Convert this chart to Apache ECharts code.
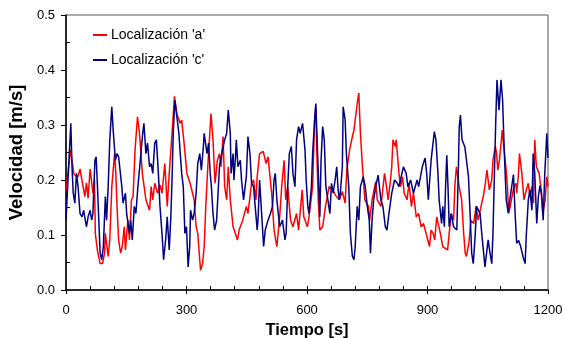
<!DOCTYPE html>
<html>
<head>
<meta charset="utf-8">
<script src="https://cdn.jsdelivr.net/npm/echarts@6/dist/echarts.min.js"></script>
<style>
  html, body { margin: 0; padding: 0; background: #fff; }
  #chart { width: 564px; height: 338px; }
</style>
</head>
<body>
<div id="chart"></div>
<script>
  // time [s], velocity [m/s]
  const locA = [[0,0.18],[11,0.255],[20,0.21],[29,0.205],[35,0.22],[42,0.19],[47,0.17],[51,0.195],[55,0.167],[60,0.22],[67,0.176],[71,0.2],[73,0.103],[78,0.073],[85,0.048],[91,0.048],[96,0.067],[98,0.103],[105,0.061],[109,0.091],[114,0.188],[121,0.248],[124,0.212],[127,0.152],[131,0.091],[136,0.067],[140,0.079],[145,0.115],[148,0.073],[154,0.127],[158,0.091],[163,0.164],[167,0.17],[172,0.255],[178,0.315],[183,0.285],[190,0.212],[199,0.164],[208,0.145],[212,0.188],[216,0.164],[221,0.194],[228,0.176],[234,0.191],[239,0.176],[246,0.23],[252,0.152],[257,0.212],[264,0.285],[270,0.352],[276,0.321],[284,0.303],[288,0.309],[294,0.267],[301,0.212],[309,0.194],[315,0.176],[319,0.164],[324,0.115],[328,0.103],[333,0.055],[335,0.036],[340,0.048],[344,0.079],[348,0.152],[353,0.224],[358,0.285],[361,0.321],[366,0.273],[371,0.194],[377,0.236],[382,0.248],[386,0.224],[391,0.279],[395,0.188],[400,0.164],[404,0.224],[409,0.164],[416,0.115],[427,0.091],[431,0.109],[440,0.127],[449,0.152],[453,0.139],[462,0.194],[467,0.2],[473,0.164],[476,0.206],[482,0.248],[491,0.252],[498,0.23],[503,0.242],[512,0.176],[518,0.109],[525,0.079],[532,0.133],[537,0.188],[543,0.236],[547,0.164],[552,0.188],[559,0.127],[565,0.115],[574,0.139],[579,0.109],[588,0.182],[592,0.133],[601,0.115],[605,0.133],[614,0.188],[619,0.309],[622,0.333],[625,0.236],[628,0.164],[632,0.109],[639,0.115],[646,0.152],[655,0.188],[664,0.182],[673,0.17],[681,0.164],[688,0.179],[695,0.158],[699,0.218],[706,0.255],[713,0.279],[717,0.291],[726,0.345],[729,0.358],[733,0.285],[738,0.224],[744,0.164],[753,0.152],[756,0.127],[762,0.164],[771,0.197],[775,0.164],[784,0.152],[793,0.212],[798,0.188],[802,0.164],[807,0.194],[811,0.224],[814,0.273],[820,0.261],[822,0.273],[829,0.212],[833,0.188],[838,0.206],[842,0.176],[849,0.164],[854,0.194],[860,0.152],[865,0.176],[872,0.133],[878,0.139],[884,0.115],[890,0.121],[905,0.079],[909,0.109],[914,0.103],[918,0.091],[923,0.133],[932,0.103],[938,0.079],[950,0.073],[954,0.103],[959,0.139],[965,0.127],[968,0.188],[972,0.224],[979,0.188],[985,0.164],[990,0.103],[994,0.067],[997,0.061],[1003,0.085],[1008,0.127],[1015,0.121],[1021,0.152],[1026,0.127],[1035,0.158],[1039,0.17],[1044,0.194],[1048,0.218],[1054,0.182],[1060,0.2],[1063,0.236],[1069,0.261],[1072,0.248],[1075,0.218],[1079,0.236],[1084,0.273],[1086,0.291],[1090,0.261],[1095,0.224],[1099,0.188],[1102,0.139],[1106,0.152],[1115,0.188],[1120,0.194],[1122,0.176],[1126,0.206],[1129,0.248],[1135,0.212],[1140,0.164],[1146,0.182],[1151,0.194],[1155,0.17],[1160,0.188],[1164,0.158],[1167,0.273],[1171,0.224],[1178,0.212],[1182,0.188],[1187,0.139],[1193,0.164],[1197,0.206],[1200,0.188]];

  const locC = [[0,0.127],[12,0.303],[15,0.224],[18,0.176],[22,0.158],[26,0.212],[30,0.188],[35,0.139],[40,0.133],[44,0.145],[48,0.127],[51,0.115],[55,0.133],[60,0.145],[64,0.127],[67,0.139],[72,0.236],[75,0.242],[78,0.194],[81,0.139],[85,0.067],[89,0.055],[93,0.079],[98,0.17],[101,0.127],[105,0.188],[109,0.273],[114,0.333],[118,0.285],[123,0.236],[127,0.248],[131,0.242],[139,0.188],[142,0.158],[148,0.176],[151,0.139],[158,0.103],[161,0.127],[165,0.091],[170,0.152],[174,0.139],[179,0.188],[185,0.236],[191,0.285],[194,0.303],[199,0.248],[203,0.267],[208,0.224],[212,0.23],[216,0.212],[221,0.267],[225,0.273],[230,0.212],[234,0.152],[239,0.103],[243,0.055],[248,0.091],[252,0.133],[257,0.073],[261,0.133],[264,0.2],[267,0.285],[271,0.345],[276,0.315],[281,0.285],[285,0.242],[288,0.212],[292,0.188],[296,0.103],[300,0.115],[304,0.042],[308,0.079],[310,0.145],[315,0.127],[319,0.139],[324,0.176],[328,0.23],[333,0.248],[337,0.218],[342,0.261],[344,0.285],[351,0.248],[355,0.267],[359,0.212],[362,0.188],[366,0.139],[370,0.109],[375,0.127],[382,0.224],[386,0.242],[395,0.273],[400,0.285],[404,0.327],[409,0.285],[411,0.212],[416,0.248],[418,0.2],[422,0.242],[424,0.273],[428,0.224],[434,0.236],[437,0.2],[442,0.164],[444,0.176],[449,0.206],[453,0.279],[458,0.248],[462,0.194],[467,0.188],[471,0.152],[476,0.109],[478,0.127],[482,0.2],[487,0.139],[492,0.079],[496,0.109],[503,0.127],[509,0.139],[514,0.152],[518,0.2],[521,0.212],[525,0.164],[532,0.115],[539,0.127],[545,0.091],[548,0.103],[552,0.188],[556,0.248],[561,0.261],[565,0.212],[570,0.188],[574,0.273],[579,0.297],[583,0.285],[589,0.303],[595,0.255],[598,0.2],[602,0.152],[605,0.139],[611,0.188],[614,0.248],[620,0.321],[622,0.339],[626,0.255],[630,0.176],[632,0.133],[635,0.236],[639,0.297],[643,0.273],[647,0.188],[652,0.164],[657,0.139],[661,0.194],[665,0.176],[670,0.2],[674,0.224],[677,0.188],[680,0.164],[683,0.176],[688,0.224],[690,0.333],[695,0.309],[698,0.248],[704,0.188],[708,0.103],[713,0.061],[717,0.055],[720,0.079],[725,0.152],[729,0.127],[733,0.188],[740,0.206],[745,0.188],[750,0.152],[755,0.127],[758,0.067],[762,0.127],[766,0.164],[771,0.188],[777,0.209],[784,0.164],[789,0.152],[795,0.115],[799,0.109],[804,0.139],[811,0.176],[818,0.2],[825,0.194],[829,0.188],[840,0.224],[847,0.212],[851,0.188],[858,0.2],[865,0.176],[874,0.2],[878,0.188],[887,0.224],[894,0.24],[898,0.212],[902,0.164],[909,0.236],[917,0.288],[921,0.273],[926,0.212],[929,0.164],[935,0.121],[938,0.152],[942,0.115],[945,0.188],[948,0.245],[951,0.188],[954,0.115],[959,0.139],[965,0.115],[973,0.109],[977,0.224],[979,0.297],[982,0.318],[986,0.273],[993,0.26],[1002,0.206],[1006,0.14],[1010,0.067],[1014,0.048],[1019,0.103],[1022,0.152],[1026,0.151],[1031,0.139],[1035,0.103],[1039,0.073],[1043,0.042],[1047,0.067],[1051,0.091],[1055,0.07],[1060,0.048],[1063,0.103],[1067,0.224],[1070,0.309],[1073,0.382],[1078,0.327],[1083,0.382],[1087,0.345],[1091,0.255],[1096,0.164],[1101,0.14],[1105,0.164],[1110,0.19],[1114,0.21],[1118,0.14],[1122,0.085],[1127,0.09],[1132,0.079],[1138,0.06],[1143,0.048],[1146,0.1],[1151,0.164],[1155,0.182],[1160,0.145],[1163,0.248],[1167,0.212],[1172,0.121],[1176,0.17],[1180,0.19],[1184,0.175],[1188,0.127],[1192,0.212],[1197,0.285],[1200,0.24]];

  const seriesNames = ["Localización 'a'", "Localización 'c'"];
  const xMinorTicks = [60, 120, 180, 240, 300, 360, 420, 480, 540, 600, 660, 720, 780, 840, 900, 960, 1020, 1080, 1140];
  const yMinorTicks = [0.05, 0.15, 0.25, 0.35, 0.45];

  const font = 'Liberation Sans, Arial, sans-serif';
  const chart = echarts.init(document.getElementById('chart'));

  chart.setOption({
    animation: false,
    grid: {
      left: 66, right: 16, top: 15, bottom: 48,
      outerBoundsMode: 'none',
      show: true, borderColor: '#555', borderWidth: 1
    },
    legend: {
      orient: 'vertical',
      left: 93, top: 28, padding: 0,
      itemWidth: 14, itemHeight: 2, itemGap: 11,
      icon: 'rect',
      textStyle: { fontFamily: font, fontSize: 14, color: '#000', padding: [0, 0, 0, -1] },
      data: seriesNames
    },
    xAxis: [
      {
        type: 'value', min: 0, max: 1200, interval: 300,
        name: 'Tiempo [s]', nameLocation: 'middle', nameGap: 32,
        nameTextStyle: { fontFamily: font, fontSize: 16.5, fontWeight: 'bold', color: '#000' },
        axisLine: { lineStyle: { color: '#000', width: 1.5 } },
        axisTick: { length: 4, lineStyle: { color: '#000' } },
        axisLabel: { fontFamily: font, fontSize: 13, color: '#000', margin: 14, formatter: v => String(v) },
        splitLine: { show: false }
      },
      {
        type: 'value', min: 0, max: 1200, position: 'bottom',
        axisLine: { show: false },
        axisTick: { inside: true, length: 4, customValues: xMinorTicks, lineStyle: { color: '#000' } },
        axisLabel: { show: false },
        splitLine: { show: false }
      }
    ],
    yAxis: [
      {
        type: 'value', min: 0, max: 0.5, interval: 0.1,
        name: 'Velocidad [m/s]', nameLocation: 'middle', nameGap: 33,
        nameTextStyle: { fontFamily: font, fontSize: 18.5, fontWeight: 'bold', color: '#000' },
        axisLine: { show: true, lineStyle: { color: '#000', width: 1.5 } },
        axisTick: { show: true, length: 5, lineStyle: { color: '#000' } },
        axisLabel: { fontFamily: font, fontSize: 13, color: '#000', margin: 11, formatter: v => v.toFixed(1) },
        splitLine: { show: false }
      },
      {
        type: 'value', min: 0, max: 0.5, position: 'left',
        axisLine: { show: false },
        axisTick: { show: true, inside: true, length: 4, customValues: yMinorTicks, lineStyle: { color: '#000' } },
        axisLabel: { show: false },
        splitLine: { show: false }
      }
    ],
    series: [
      {
        name: seriesNames[0], type: 'line', data: locA,
        showSymbol: false, color: '#ff0000',
        lineStyle: { width: 1.5, color: '#ff0000' }
      },
      {
        name: seriesNames[1], type: 'line', data: locC,
        showSymbol: false, color: '#000080',
        lineStyle: { width: 1.5, color: '#000080' }
      }
    ]
  });
</script>
</body>
</html>
